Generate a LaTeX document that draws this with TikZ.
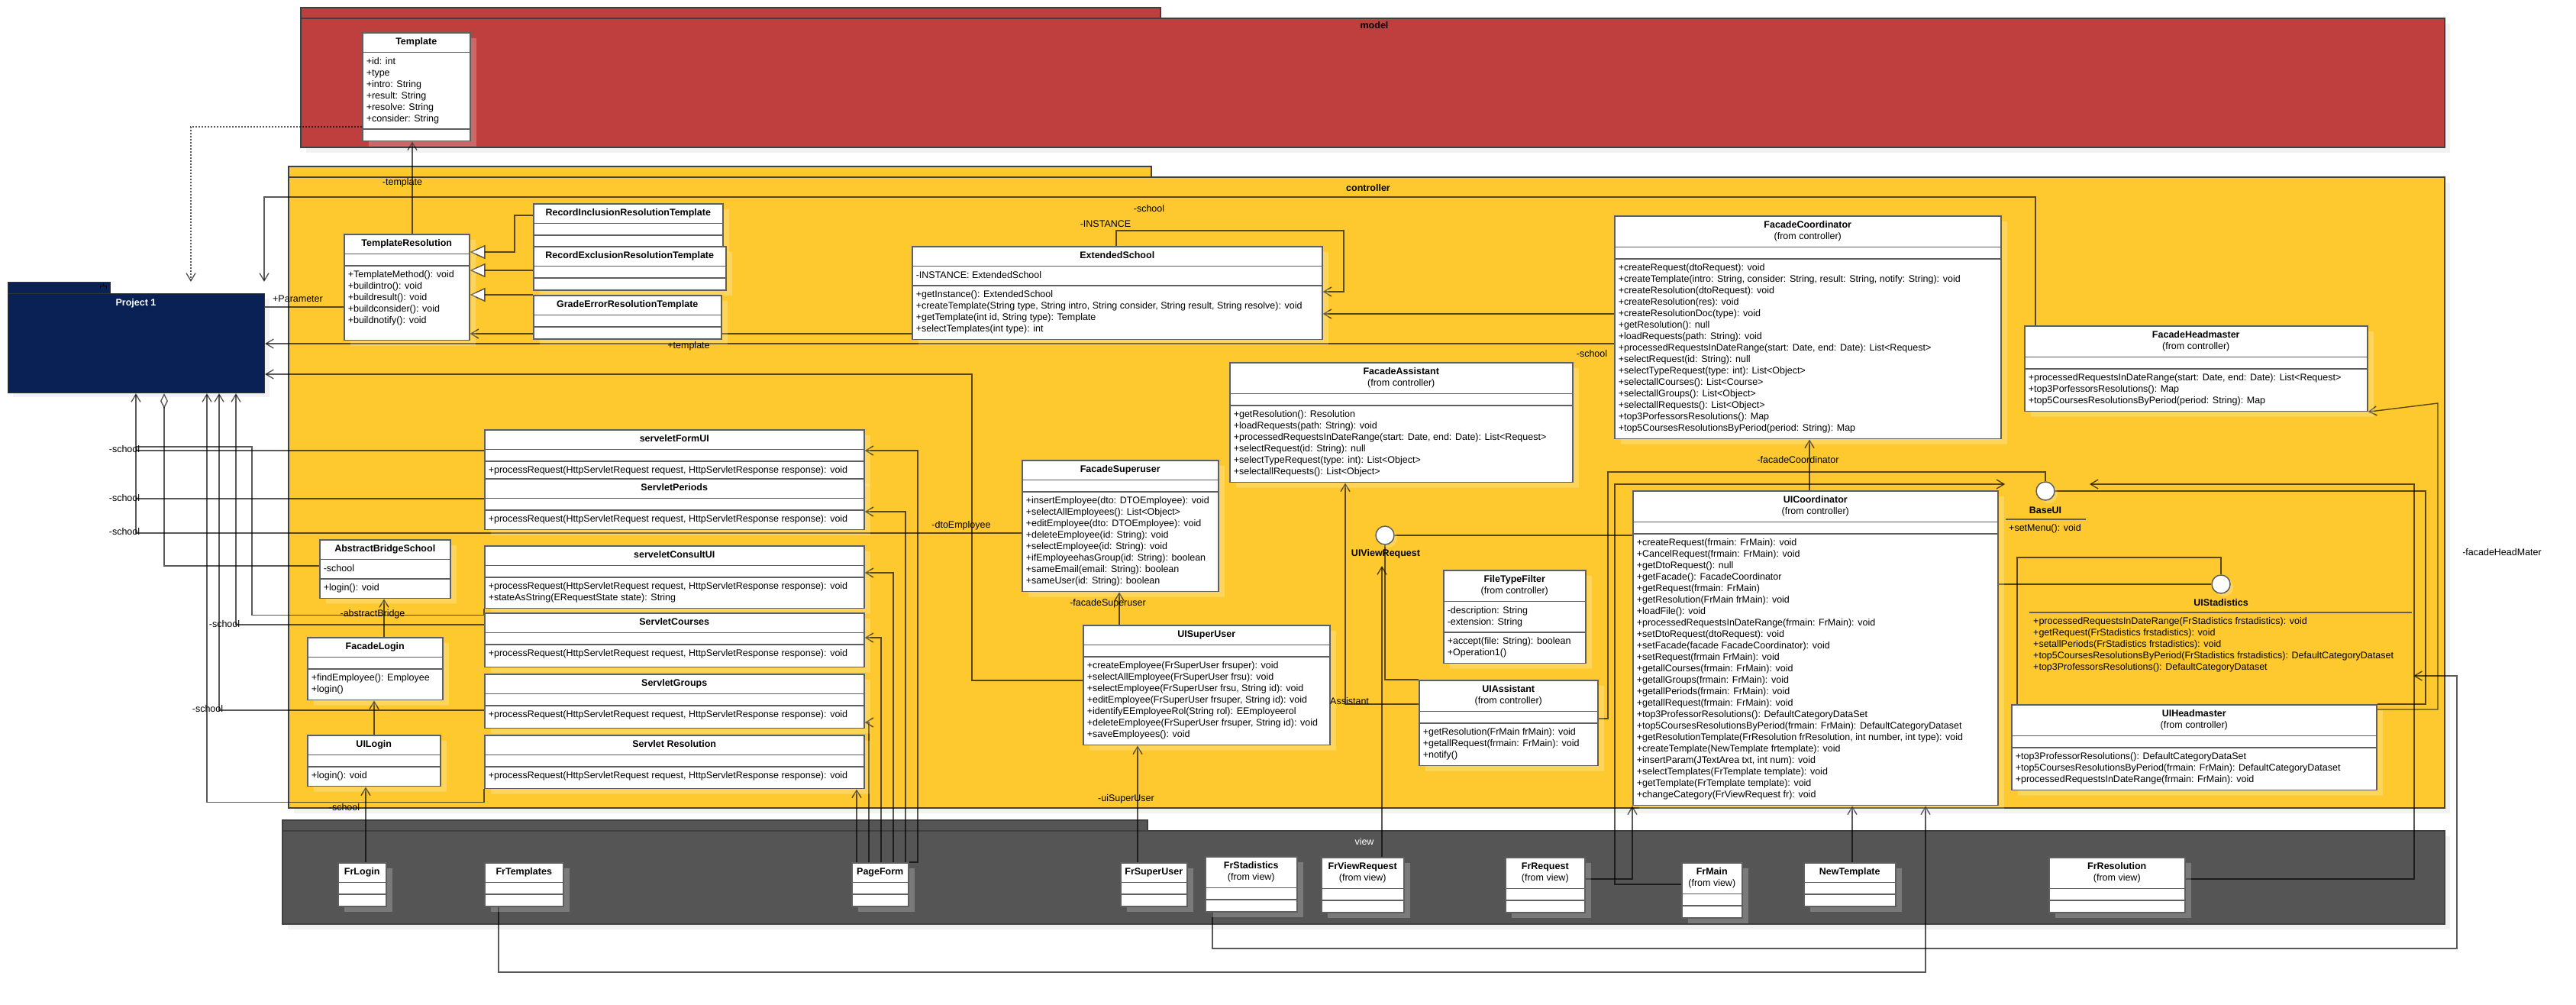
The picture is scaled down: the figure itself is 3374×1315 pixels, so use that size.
\documentclass[tikz,border=0pt]{standalone}
\usepackage{fontspec}
\setmainfont{Liberation Sans}
\usetikzlibrary{shapes.multipart,arrows.meta,shadows}

\definecolor{modelred}{RGB}{191,62,62}
\definecolor{ctrlyellow}{RGB}{253,201,47}
\definecolor{viewgray}{RGB}{85,85,85}
\definecolor{projnavy}{RGB}{10,33,86}
\definecolor{clsline}{RGB}{95,95,95}
\definecolor{pkgshade}{RGB}{242,242,242}

\newcommand{\umlfont}{\fontsize{12.5}{15}\selectfont}
\newcommand{\cname}[1]{\begin{tabular}{@{}c@{}}\textbf{#1}\end{tabular}}
\newcommand{\cfrom}[2]{\begin{tabular}{@{}c@{}}\textbf{#1}\\(from #2)\end{tabular}}
\newcommand{\clines}[1]{\begin{tabular}{@{}l@{}}#1\end{tabular}}
\newcommand{\procreq}{+processRequest(HttpServletRequest request, HttpServletResponse response): void}

\pgfdeclarelayer{back}
\pgfdeclarelayer{wires}
\pgfsetlayers{back,wires,main}

\tikzset{
  cls/.style={rectangle split, rectangle split parts=3, anchor=north west,
    draw=clsline, line width=1.5pt, fill=white, inner xsep=5pt, inner ysep=4.5pt,
    rectangle split part align={center,left,left},
    rectangle split empty part height=0pt, rectangle split empty part depth=0pt,
    drop shadow={shadow xshift=8pt, shadow yshift=-7pt, fill=white, opacity=0.22}},
  iface/.style={circle, draw=clsline, line width=1.5pt, fill=white, minimum size=24pt, inner sep=0pt,
    drop shadow={shadow xshift=4pt, shadow yshift=-4pt, fill=white, opacity=0.22}},
  wire/.style={draw=black, draw opacity=0.65, line width=1.4pt},
  assoc/.style={wire, -{Straight Barb[length=10pt,width=12pt]}},
  gen/.style={wire, -{Triangle[open,length=20pt,width=18pt,fill=white]}},
  agg/.style={wire, -{Diamond[open,length=20pt,width=10pt,fill=white]}},
  dep/.style={wire, dash pattern=on 2pt off 2pt, -{Straight Barb[length=10pt,width=12pt]}},
  lbl/.style={inner sep=0pt},
  pkgbody/.style={line width=1.5pt, draw=black!75}
}

\begin{document}
\begin{tikzpicture}[x=1pt,y=-1pt,font=\umlfont]
\useasboundingbox (0,0) rectangle (3374,1315);

% packages
\begin{pgfonlayer}{back}
\fill[pkgshade] (401,31) rectangle (3209,200);
\fill[pkgshade] (385,239) rectangle (3209,1065);
\fill[pkgshade] (377,1095) rectangle (3209,1217);
\fill[pkgshade] (17,391) rectangle (353,520);
\filldraw[pkgbody, fill=modelred] (394,10) rectangle (1520,24);
\filldraw[pkgbody, fill=modelred] (394,24) rectangle (3202,193);
\filldraw[pkgbody, fill=ctrlyellow] (378,218) rectangle (1508,232);
\filldraw[pkgbody, fill=ctrlyellow] (378,232) rectangle (3202,1058);
\filldraw[pkgbody, fill=viewgray] (370,1074) rectangle (1503,1088);
\filldraw[pkgbody, fill=viewgray] (370,1088) rectangle (3202,1210);
\filldraw[line width=1pt, draw=black!80, fill=projnavy] (10,369) rectangle (144,384);
\draw[line width=1pt] (131,378) -- (131,374) -- (139,374) -- (139,378) (135,374) -- (135,371);
\end{pgfonlayer}
\node[lbl, font=\umlfont\bfseries] (modellbl) at (1800,33) {model};
\node[lbl, font=\umlfont\bfseries] (ctrllbl) at (1792,246) {controller};
\node[lbl, text=white] (viewlbl) at (1787,1102) {view};

\node[fill=projnavy, draw=black!80, line width=1pt, anchor=north west, inner sep=0pt,
  minimum width=336pt, minimum height=130pt] (proj) at (10,384) {};
\node[lbl, text=white, font=\umlfont\bfseries] (projlbl) at (178,397) {Project 1};
\coordinate (projtop) at (0,369);

% model
\node[cls, minimum width=141pt] (tmpl) at (474,42) {\cname{Template}
  \nodepart{two}\clines{+id: int\\+type\\+intro: String\\+result: String\\+resolve: String\\+consider: String}
  \nodepart{three}};

% controller
\node[cls, minimum width=164pt] (tres) at (450,306) {\cname{TemplateResolution}
  \nodepart{two}
  \nodepart{three}\clines{+TemplateMethod(): void\\+buildintro(): void\\+buildresult(): void\\+buildconsider(): void\\+buildnotify(): void\\[12pt]}};
\node[cls, minimum width=248pt] (rir) at (698,266) {\cname{RecordInclusionResolutionTemplate}\nodepart{two}\nodepart{three}};
\node[cls, minimum width=252pt] (rer) at (698,322) {\cname{RecordExclusionResolutionTemplate}\nodepart{two}\nodepart{three}};
\node[cls, minimum width=246pt] (gert) at (698,386) {\cname{GradeErrorResolutionTemplate}\nodepart{two}\nodepart{three}};

\node[cls, minimum width=537pt] (exts) at (1194,322) {\cname{ExtendedSchool}
  \nodepart{two}\clines{-INSTANCE: ExtendedSchool}
  \nodepart{three}\clines{+getInstance(): ExtendedSchool\\+createTemplate(String type, String intro, String consider, String result, String resolve): void\\+getTemplate(int id, String type): Template\\+selectTemplates(int type): int}};

\node[cls, minimum width=506pt] (fcoord) at (2114,282) {\cfrom{FacadeCoordinator}{controller}
  \nodepart{two}
  \nodepart{three}\clines{+createRequest(dtoRequest): void\\+createTemplate(intro: String, consider: String, result: String, notify: String): void\\+createResolution(dtoRequest): void\\+createResolution(res): void\\+createResolutionDoc(type): void\\+getResolution(): null\\+loadRequests(path: String): void\\+processedRequestsInDateRange(start: Date, end: Date): List<Request>\\+selectRequest(id: String): null\\+selectTypeRequest(type: int): List<Object>\\+selectallCourses(): List<Course>\\+selectallGroups(): List<Object>\\+selectallRequests(): List<Object>\\+top3PorfessorsResolutions(): Map\\+top5CoursesResolutionsByPeriod(period: String): Map}};

\node[cls, minimum width=449pt] (fhead) at (2651,426) {\cfrom{FacadeHeadmaster}{controller}
  \nodepart{two}
  \nodepart{three}\clines{+processedRequestsInDateRange(start: Date, end: Date): List<Request>\\+top3PorfessorsResolutions(): Map\\+top5CoursesResolutionsByPeriod(period: String): Map}};

\node[cls, minimum width=449pt] (fas) at (1610,474) {\cfrom{FacadeAssistant}{controller}
  \nodepart{two}
  \nodepart{three}\clines{+getResolution(): Resolution\\+loadRequests(path: String): void\\+processedRequestsInDateRange(start: Date, end: Date): List<Request>\\+selectRequest(id: String): null\\+selectTypeRequest(type: int): List<Object>\\+selectallRequests(): List<Object>}};

\node[cls, minimum width=497pt] (sform) at (634,562) {\cname{serveletFormUI}\nodepart{two}\nodepart{three}\clines{\procreq}};
\node[cls, minimum width=497pt] (speri) at (634,626) {\cname{ServletPeriods}\nodepart{two}\nodepart{three}\clines{\procreq}};
\node[cls, minimum width=497pt] (scons) at (634,714) {\cname{serveletConsultUI}\nodepart{two}\nodepart{three}\clines{\procreq\\+stateAsString(ERequestState state): String}};
\node[cls, minimum width=497pt] (scour) at (634,802) {\cname{ServletCourses}\nodepart{two}\nodepart{three}\clines{\procreq\\[4pt]}};
\node[cls, minimum width=497pt] (sgrp) at (634,882) {\cname{ServletGroups}\nodepart{two}\nodepart{three}\clines{\procreq\\[4pt]}};
\node[cls, minimum width=497pt] (sres) at (634,962) {\cname{Servlet Resolution}\nodepart{two}\nodepart{three}\clines{\procreq\\[3pt]}};

\node[cls, minimum width=171pt] (absb) at (418,706) {\cname{AbstractBridgeSchool}\nodepart{two}\clines{-school}\nodepart{three}\clines{+login(): void}};
\node[cls, minimum width=177pt] (flog) at (402,834) {\cname{FacadeLogin}\nodepart{two}\nodepart{three}\clines{+findEmployee(): Employee\\+login()}};
\node[cls, minimum width=174pt] (uilog) at (402,962) {\cname{UILogin}\nodepart{two}\nodepart{three}\clines{+login(): void}};

\node[cls, minimum width=257pt] (fsu) at (1338,602) {\cname{FacadeSuperuser}
  \nodepart{two}
  \nodepart{three}\clines{+insertEmployee(dto: DTOEmployee): void\\+selectAllEmployees(): List<Object>\\+editEmployee(dto: DTOEmployee): void\\+deleteEmployee(id: String): void\\+selectEmployee(id: String): void\\+ifEmployeehasGroup(id: String): boolean\\+sameEmail(email: String): boolean\\+sameUser(id: String): boolean}};

\node[cls, minimum width=323pt] (uisu) at (1418,818) {\cname{UISuperUser}
  \nodepart{two}
  \nodepart{three}\clines{+createEmployee(FrSuperUser frsuper): void\\+selectAllEmployee(FrSuperUser frsu): void\\+selectEmployee(FrSuperUser frsu, String id): void\\+editEmployee(FrSuperUser frsuper, String id): void\\+identifyEEmployeeRol(String rol): EEmployeerol\\+deleteEmployee(FrSuperUser frsuper, String id): void\\+saveEmployees(): void}};

\node[cls, minimum width=186pt] (fft) at (1890,746) {\cfrom{FileTypeFilter}{controller}
  \nodepart{two}\clines{-description: String\\-extension: String}
  \nodepart{three}\clines{+accept(file: String): boolean\\+Operation1()}};

\node[cls, minimum width=234pt] (uias) at (1858,890) {\cfrom{UIAssistant}{controller}
  \nodepart{two}
  \nodepart{three}\clines{+getResolution(FrMain frMain): void\\+getallRequest(frmain: FrMain): void\\+notify()}};

\node[cls, minimum width=478pt] (uicoord) at (2138,642) {\cfrom{UICoordinator}{controller}
  \nodepart{two}
  \nodepart{three}\clines{+createRequest(frmain: FrMain): void\\+CancelRequest(frmain: FrMain): void\\+getDtoRequest(): null\\+getFacade(): FacadeCoordinator\\+getRequest(frmain: FrMain)\\+getResolution(FrMain frMain): void\\+loadFile(): void\\+processedRequestsInDateRange(frmain: FrMain): void\\+setDtoRequest(dtoRequest): void\\+setFacade(facade FacadeCoordinator): void\\+setRequest(frmain FrMain): void\\+getallCourses(frmain: FrMain): void\\+getallGroups(frmain: FrMain): void\\+getallPeriods(frmain: FrMain): void\\+getallRequest(frmain: FrMain): void\\+top3ProfessorResolutions(): DefaultCategoryDataSet\\+top5CoursesResolutionsByPeriod(frmain: FrMain): DefaultCategoryDataset\\+getResolutionTemplate(FrResolution frResolution, int number, int type): void\\+createTemplate(NewTemplate frtemplate): void\\+insertParam(JTextArea txt, int num): void\\+selectTemplates(FrTemplate template): void\\+getTemplate(FrTemplate template): void\\+changeCategory(FrViewRequest fr): void}};

\node[cls, minimum width=478pt] (uihead) at (2634,922) {\cfrom{UIHeadmaster}{controller}
  \nodepart{two}
  \nodepart{three}\clines{+top3ProfessorResolutions(): DefaultCategoryDataSet\\+top5CoursesResolutionsByPeriod(frmain: FrMain): DefaultCategoryDataset\\+processedRequestsInDateRange(frmain: FrMain): void}};

% interfaces
\node[iface] (uiview) at (1814,701) {};
\node[lbl, font=\umlfont\bfseries] (uiviewlbl) at (1815,725) {UIViewRequest};
\coordinate (viewtip) at (1810,741);

\node[iface] (baseui) at (2679,643) {};
\node[lbl, font=\umlfont\bfseries] (baseuilbl) at (2679,668) {BaseUI};
\draw[draw=clsline, line width=2pt] (2627,680) -- (2732,680);
\node[anchor=north west, inner xsep=4pt, inner ysep=4.5pt] (baseuiops) at (2627,680) {\clines{+setMenu(): void}};

\node[iface] (uistat) at (2909,765) {};
\node[lbl, font=\umlfont\bfseries] (uistatlbl) at (2909,789) {UIStadistics};
\draw[draw=clsline, line width=2pt] (2658,802) -- (3159,802);
\node[anchor=north west, inner xsep=5pt, inner ysep=4.5pt] (uistatops) at (2658,802) {\clines{+processedRequestsInDateRange(FrStadistics frstadistics): void\\+getRequest(FrStadistics frstadistics): void\\+setallPeriods(FrStadistics frstadistics): void\\+top5CoursesResolutionsByPeriod(FrStadistics frstadistics): DefaultCategoryDataset\\+top3ProfessorsResolutions(): DefaultCategoryDataset}};
\coordinate (stattip) at (3161,885);

% view
\node[cls, minimum width=63pt] (frlog) at (442,1129) {\cname{FrLogin}\nodepart{two}\nodepart{three}};
\node[cls, minimum width=103pt] (frtmp) at (634,1129) {\cname{FrTemplates}\nodepart{two}\nodepart{three}};
\node[cls, minimum width=74pt] (pform) at (1115,1129) {\cname{PageForm}\nodepart{two}\nodepart{three}};
\node[cls, minimum width=87pt] (frsu) at (1467,1129) {\cname{FrSuperUser}\nodepart{two}\nodepart{three}};
\node[cls, minimum width=120pt] (frstat) at (1578,1121) {\cfrom{FrStadistics}{view}\nodepart{two}\nodepart{three}};
\node[cls, minimum width=108pt] (frview) at (1730,1122) {\cfrom{FrViewRequest}{view}\nodepart{two}\nodepart{three}};
\node[cls, minimum width=104pt] (frreq) at (1971,1122) {\cfrom{FrRequest}{view}\nodepart{two}\nodepart{three}};
\node[cls, minimum width=79pt] (frmain) at (2202,1129) {\cfrom{FrMain}{view}\nodepart{two}\nodepart{three}};
\node[cls, minimum width=120pt] (newt) at (2362,1129) {\cname{NewTemplate}\nodepart{two}\nodepart{three}};
\node[cls, minimum width=178pt] (frres) at (2683,1122) {\cfrom{FrResolution}{view}\nodepart{two}\nodepart{three}};

% connectors
\begin{pgfonlayer}{wires}
\draw[dep] (tmpl.west |- 0,166) -| (projtop -| 250,0);
\draw[assoc] (tres.north -| 540,0) -- (tmpl.south -| 540,0);
\draw[gen] (rir.west |- 0,282) -| (674,330) -- (tres.east |- 0,330);
\draw[gen] (rer.west |- 0,354) -- (tres.east |- 0,354);
\draw[gen] (gert.west |- 0,386) -- (tres.east |- 0,386);
\draw[wire] (tres.west |- 0,402) -- (proj.east |- 0,402);
\draw[assoc] (exts.west |- 0,437) -- (tres.east |- 0,437);
\draw[assoc] (fcoord.west |- 0,450) -- (proj.east |- 0,450);
\draw[assoc] (fcoord.west |- 0,411) -- (exts.east |- 0,411);
\draw[assoc] (fhead.north -| 2666,0) |- (346,258) -- (projtop -| 346,0);
\draw[assoc] (exts.north -| 1462,0) |- (1760,302) |- (exts.east |- 0,382);
\draw[assoc] (uisu.west |- 0,891) -| (1273,490) -- (proj.east |- 0,490);

\draw[assoc] (fsu.west |- 0,698) -| (proj.south -| 178,0);
\draw[wire] (sform.west |- 0,590) -- (178,590);
\draw[wire] (speri.west |- 0,653) -- (178,653);
\draw[wire] (scons.south west) -- ++(0,8) -| (330,585) -- (178,585);
\draw[agg] (absb.west |- 0,741) -| (proj.south -| 215,0);
\draw[assoc] (scour.west |- 0,818) -| (proj.south -| 309,0);
\draw[assoc] (sgrp.west |- 0,930) -| (proj.south -| 287,0);
\draw[assoc] (sres.south west) -- ++(0,17) -| (proj.south -| 271,0);

\draw[assoc] (flog.north -| 503,0) -- (absb.south -| 503,0);
\draw[assoc] (uilog.north -| 490,0) -- (flog.south -| 490,0);
\draw[assoc] (frlog.north -| 479,0) -- (uilog.south -| 479,0);

\draw[assoc] (pform.north -| 1122,0) -- (sres.south -| 1122,0);
\draw[assoc] (pform.north -| 1138,0) |- (sgrp.east |- 0,946);
\draw[assoc] (pform.north -| 1154,0) |- (scour.east |- 0,835);
\draw[assoc] (pform.north -| 1170,0) |- (scons.east |- 0,750);
\draw[assoc] (pform.north -| 1186,0) |- (speri.east |- 0,670);
\draw[assoc] (pform.north east) -| (1202,590) -- (sform.east |- 0,590);

\draw[assoc] (uisu.north -| 1466,0) -- (fsu.south -| 1466,0);
\draw[assoc] (frsu.north -| 1490,0) -- (uisu.south -| 1490,0);
\draw[assoc] (uias.west |- 0,922) -| (fas.south -| 1762,0);
\draw[wire] (uias.north west) -| (uiview.south);
\draw[assoc] (frview.north -| 1810,0) -- (viewtip);
\draw[wire] (uicoord.west |- 0,701) -- (uiview.east);
\draw[assoc] (uicoord.north -| 2370,0) -- (fcoord.south -| 2370,0);

\draw[wire] (uias.east |- 0,941) -| (2106,618) -| (baseui.north);
\draw[assoc, shorten >=40pt] (frmain.west |- 0,1158) -| (2115,634) -- (baseui.west |- 0,634);
\draw[assoc, shorten >=45pt] (frres.east |- 0,1151) -| (3162,634) -- (baseui.east |- 0,634);
\draw[wire] (uihead.north east) -| (3177,643) -- (baseui.east);
\draw[assoc] (uihead.east |- 0,929) -| (3193,528) -- (fhead.south east);
\draw[wire] (uicoord.east |- 0,765) -- (uistat.west);
\draw[wire] (uihead.north -| 2642,0) |- (2909,730) -- (uistat.north);
\draw[assoc] (frstat.south -| 1588,0) |- (3218,1242) |- (stattip);

\draw[assoc] (frreq.east |- 0,1151) -| (uicoord.south west);
\draw[assoc] (newt.north -| 2426,0) -- (uicoord.south -| 2426,0);
\draw[assoc] (frtmp.south -| 653,0) |- (2522,1273) -- (uicoord.south -| 2522,0);
\end{pgfonlayer}

% connector labels
\node[lbl] (l1) at (527,239) {-template};
\node[lbl] (l2) at (390,391) {+Parameter};
\node[lbl] (l3) at (902,453) {+template};
\node[lbl] (l4) at (1505,273) {-school};
\node[lbl] (l5) at (1448,293) {-INSTANCE};
\node[lbl] (l6) at (2085,463) {-school};
\node[lbl] (l7) at (163,588) {-school};
\node[lbl] (l8) at (163,652) {-school};
\node[lbl] (l9) at (163,696) {-school};
\node[lbl] (l10) at (1259,688) {-dtoEmployee};
\node[lbl] (l11) at (294,817) {-school};
\node[lbl] (l12) at (272,928) {-school};
\node[lbl] (l13) at (488,804) {-abstractBridge};
\node[lbl] (l14) at (451,1057) {-school};
\node[lbl] (l15) at (1451,790) {-facadeSuperuser};
\node[lbl] (l16) at (1475,1046) {-uiSuperUser};
\node[lbl, anchor=west] (l17) at (1742,918) {Assistant};
\node[lbl] (l18) at (2355,602) {-facadeCoordinator};
\node[lbl] (l19) at (3277,723) {-facadeHeadMater};

\end{tikzpicture}
\end{document}
